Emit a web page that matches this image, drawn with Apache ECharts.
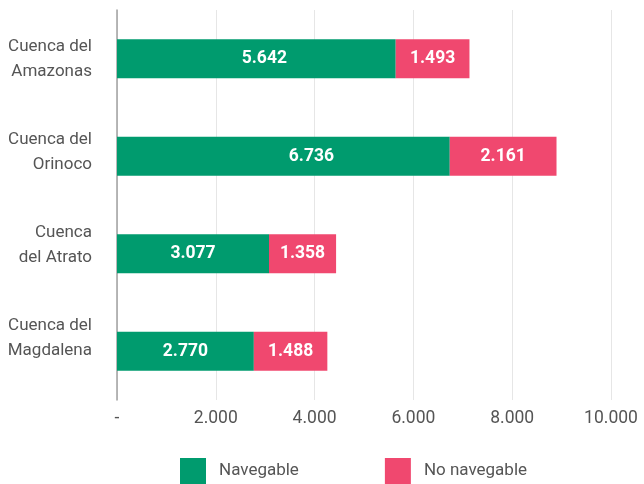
<!DOCTYPE html>
<html>
<head>
<meta charset="utf-8">
<script src="https://cdn.jsdelivr.net/npm/echarts@6/dist/echarts.min.js"></script>
<style>
  html, body { margin: 0; padding: 0; background: #fff; }
  #main { width: 644px; height: 484px; }
</style>
</head>
<body>
<div id="main"></div>
<script>
// datos de las cuencas
const cuencas = ['Cuenca del\nAmazonas', 'Cuenca del\nOrinoco', 'Cuenca\ndel Atrato', 'Cuenca del\nMagdalena']
const navegable = [5642, 6736, 3077, 2770]
const noNavegable = [1493, 2161, 1358, 1488]
const ticks = [0, 2000, 4000, 6000, 8000, 10000]

// en el original las etiquetas verdes no quedan todas centradas
const labelShift = [8, 28, 0, 0]

const fontFam = 'Roboto'
const fmt = function (v) {
  if (v === 0) return '-'
  return String(v).replace(/\B(?=(\d{3})+(?!\d))/g, '.')
}

const chart = echarts.init(document.getElementById('main'))
chart.setOption({
  backgroundColor: '#fff',
  animation: false,
  textStyle: { fontFamily: fontFam },
  // grid 0: barras, grid 1: solo etiquetas de las cuencas (van un poco mas juntas)
  grid: [
    { left: 117, right: 33, top: 10, bottom: 84 },
    { left: 117, right: 33, top: 13, height: 372 }
  ],
  legend: {
    left: 180,
    top: 458,
    padding: 0,
    itemWidth: 26,
    itemHeight: 26,
    itemGap: 86,
    icon: 'rect',
    textStyle: { color: '#555', fontSize: 17, fontFamily: fontFam, padding: [0, 0, 0, 8] },
    data: ['Navegable', 'No navegable']
  },
  xAxis: [
    {
      type: 'value',
      min: ticks[0],
      max: ticks[ticks.length - 1],
      interval: 2000,
      axisLine: { show: false },
      axisTick: { show: false },
      splitLine: { lineStyle: { color: '#e6e6e6' } },
      axisLabel: { color: '#555', fontSize: 17.5, margin: 10, formatter: fmt }
    },
    { type: 'value', gridIndex: 1, min: 0, max: 1, show: false }
  ],
  yAxis: [
    {
      type: 'category',
      inverse: true,
      data: cuencas,
      axisLine: { lineStyle: { color: '#a0a0a0', width: 1.5 } },
      axisTick: { show: false },
      axisLabel: { show: false }
    },
    {
      type: 'category',
      gridIndex: 1,
      inverse: true,
      data: cuencas,
      axisLine: { show: false },
      axisTick: { show: false },
      splitLine: { show: false },
      axisLabel: { color: '#555', fontSize: 17, lineHeight: 25, margin: 25, align: 'right' }
    }
  ],
  series: [
    {
      name: 'Navegable',
      type: 'bar',
      stack: 'total',
      barWidth: '40%',
      data: navegable.map((v, i) => ({ value: v, label: { offset: [labelShift[i], 0] } })),
      itemStyle: { color: '#009b6e' },
      label: { show: true, color: '#fff', fontSize: 17.5, fontWeight: 'bold', formatter: (p) => fmt(p.value) }
    },
    {
      name: 'No navegable',
      type: 'bar',
      stack: 'total',
      data: noNavegable,
      itemStyle: { color: '#f0486f' },
      label: { show: true, color: '#fff', fontSize: 17.5, fontWeight: 'bold', formatter: (p) => fmt(p.value) }
    }
  ]
})
</script>
</body>
</html>
